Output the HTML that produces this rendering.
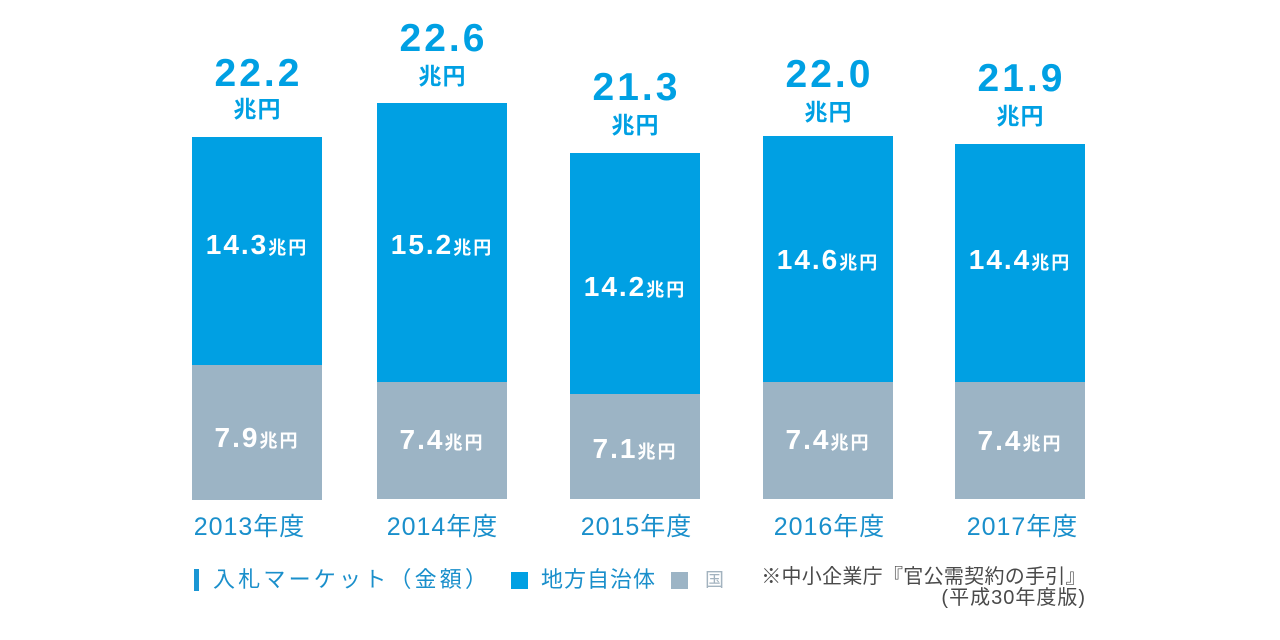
<!DOCTYPE html>
<html><head><meta charset="utf-8">
<style>
html,body{margin:0;padding:0;}
body{width:1280px;height:640px;background:#fff;position:relative;overflow:hidden;font-family:"Liberation Sans","Noto Sans CJK JP",sans-serif;}
.bar{position:absolute;width:130px;}
.blue{background:#00a0e3;}
.gray{background:#9cb4c5;}
.t{position:absolute;white-space:nowrap;text-align:center;}
.num{font-size:39px;line-height:39px;font-weight:bold;color:#00a0e3;letter-spacing:3px;padding-left:3px;width:197px;}
.unit{font-size:23px;line-height:24px;font-weight:bold;color:#00a0e3;letter-spacing:1px;padding-left:1px;width:199px;}
.in{font-size:28px;line-height:28px;font-weight:bold;color:#fff;width:200px;}
.in .n{letter-spacing:2px;}
.in .u{font-size:18px;letter-spacing:2px;}
.yr{font-size:25px;line-height:25px;color:#1a8fcb;letter-spacing:1px;padding-left:1px;width:199px;}
.lg{position:absolute;white-space:nowrap;font-size:22px;line-height:22px;color:#1a8fcb;}
.src{position:absolute;white-space:nowrap;font-size:20px;line-height:20px;color:#4a4a4a;text-align:right;}
</style></head>
<body>

<!-- Bar 1 -->
<div class="bar blue" style="left:192px;top:137px;height:228px;"></div>
<div class="bar gray" style="left:192px;top:365px;height:135px;"></div>
<!-- Bar 2 -->
<div class="bar blue" style="left:377px;top:103px;height:279px;"></div>
<div class="bar gray" style="left:377px;top:382px;height:117px;"></div>
<!-- Bar 3 -->
<div class="bar blue" style="left:570px;top:153px;height:241px;"></div>
<div class="bar gray" style="left:570px;top:394px;height:105px;"></div>
<!-- Bar 4 -->
<div class="bar blue" style="left:763px;top:136px;height:246px;"></div>
<div class="bar gray" style="left:763px;top:382px;height:117px;"></div>
<!-- Bar 5 -->
<div class="bar blue" style="left:955px;top:144px;height:238px;"></div>
<div class="bar gray" style="left:955px;top:382px;height:117px;"></div>

<!-- Top totals -->
<div class="t num" style="left:157px;top:54px;">22.2</div>
<div class="t unit" style="left:157px;top:97px;">兆円</div>

<div class="t num" style="left:342px;top:19px;">22.6</div>
<div class="t unit" style="left:342px;top:64px;">兆円</div>

<div class="t num" style="left:535px;top:68px;">21.3</div>
<div class="t unit" style="left:535px;top:113px;">兆円</div>

<div class="t num" style="left:728px;top:55px;">22.0</div>
<div class="t unit" style="left:728px;top:100px;">兆円</div>

<div class="t num" style="left:920px;top:59px;">21.9</div>
<div class="t unit" style="left:920px;top:104px;">兆円</div>

<!-- Blue segment labels -->
<div class="t in" style="left:157px;top:231px;"><span class="n">14.3</span><span class="u">兆円</span></div>
<div class="t in" style="left:342px;top:231px;"><span class="n">15.2</span><span class="u">兆円</span></div>
<div class="t in" style="left:535px;top:273px;"><span class="n">14.2</span><span class="u">兆円</span></div>
<div class="t in" style="left:728px;top:246px;"><span class="n">14.6</span><span class="u">兆円</span></div>
<div class="t in" style="left:920px;top:246px;"><span class="n">14.4</span><span class="u">兆円</span></div>

<!-- Gray segment labels -->
<div class="t in" style="left:157px;top:424px;"><span class="n">7.9</span><span class="u">兆円</span></div>
<div class="t in" style="left:342px;top:426px;"><span class="n">7.4</span><span class="u">兆円</span></div>
<div class="t in" style="left:535px;top:435px;"><span class="n">7.1</span><span class="u">兆円</span></div>
<div class="t in" style="left:728px;top:426px;"><span class="n">7.4</span><span class="u">兆円</span></div>
<div class="t in" style="left:920px;top:427px;"><span class="n">7.4</span><span class="u">兆円</span></div>

<!-- Year labels -->
<div class="t yr" style="left:149px;top:515px;">2013年度</div>
<div class="t yr" style="left:342px;top:515px;">2014年度</div>
<div class="t yr" style="left:536px;top:515px;">2015年度</div>
<div class="t yr" style="left:729px;top:515px;">2016年度</div>
<div class="t yr" style="left:922px;top:515px;">2017年度</div>

<!-- Legend -->
<div style="position:absolute;left:194px;top:569px;width:5px;height:22px;background:#1a96d4;"></div>
<div class="lg" style="left:213px;top:569px;letter-spacing:3.2px;">入札マーケット（金額）</div>
<div style="position:absolute;left:511px;top:572px;width:17px;height:17px;background:#00a0e3;"></div>
<div class="lg" style="left:541px;top:569px;letter-spacing:1px;">地方自治体</div>
<div style="position:absolute;left:671px;top:572px;width:17px;height:17px;background:#9cb4c5;"></div>
<div class="lg" style="left:705px;top:571px;font-size:19px;line-height:19px;color:#a3b3bf;">国</div>

<!-- Source -->
<div class="src" style="right:194px;top:567px;letter-spacing:0.3px;">※中小企業庁『官公需契約の手引』</div>
<div class="src" style="right:194px;top:588px;letter-spacing:1px;">(平成30年度版)</div>

</body></html>
